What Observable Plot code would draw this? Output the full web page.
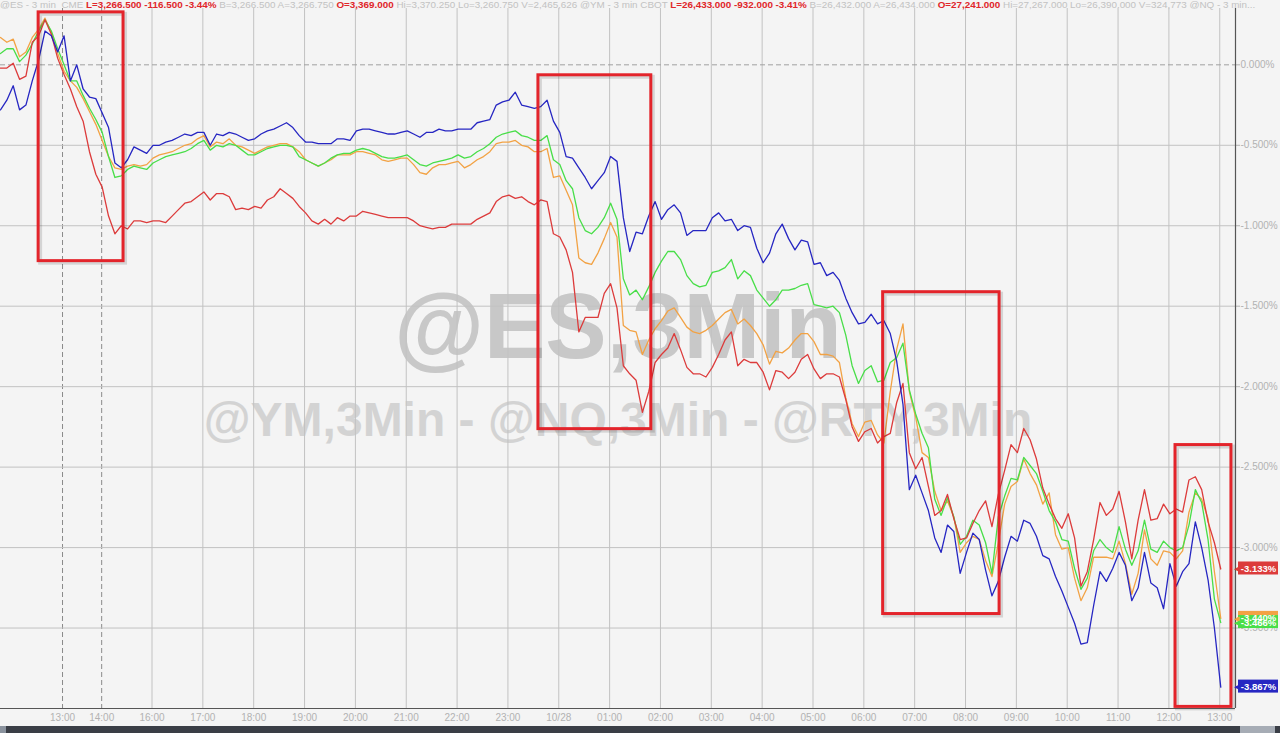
<!DOCTYPE html>
<html><head><meta charset="utf-8">
<script src="https://cdn.jsdelivr.net/npm/d3@7"></script>
<script src="https://cdn.jsdelivr.net/npm/@observablehq/plot@0.6"></script>
<style>
html,body{margin:0;padding:0;background:#f4f4f4;}
#wrap{position:relative;width:1280px;height:733px;overflow:hidden;background:#f4f4f4;font-family:"Liberation Sans",Arial,sans-serif;}
#header{position:absolute;left:0px;top:-1px;width:1262px;overflow:hidden;font-size:9.85px;white-space:nowrap;color:#c2c2c2;line-height:11px;}
#header b{color:#e0262a;}
#scroll{position:absolute;left:0;top:726px;width:1280px;height:7px;background:#3a3e46;}
#scroll .l{position:absolute;left:0;top:0;width:6px;height:7px;background:#8b939e;}
#scroll .r{position:absolute;left:1240px;top:0;width:35px;height:7px;background:#a6acb5;}
</style></head>
<body><div id="wrap"><div id="chart"></div><div id="header"></div><div id="scroll"><div class="l"></div><div class="r"></div></div></div>
<script>
// ---- data: % change, one sample every 0.125 trading hours ----
const step = 0.125;
const nq = [-0.28,-0.22,-0.13,-0.28,-0.25,-0.10,0.03,0.21,0.18,0.08,0.18,-0.10,0.00,-0.15,-0.20,-0.21,-0.30,-0.39,-0.61,-0.64,
-0.59,-0.51,-0.53,-0.55,-0.50,-0.50,-0.48,-0.47,-0.45,-0.43,-0.44,-0.42,-0.42,-0.50,-0.43,-0.44,-0.42,-0.43,-0.45,-0.47,
-0.46,-0.43,-0.41,-0.40,-0.38,-0.36,-0.39,-0.44,-0.48,-0.48,-0.49,-0.49,-0.49,-0.46,-0.46,-0.47,-0.41,-0.40,-0.40,-0.41,
-0.42,-0.43,-0.43,-0.42,-0.41,-0.43,-0.45,-0.42,-0.42,-0.40,-0.41,-0.41,-0.40,-0.40,-0.40,-0.36,-0.35,-0.34,-0.25,-0.23,
-0.22,-0.17,-0.25,-0.26,-0.27,-0.26,-0.22,-0.35,-0.42,-0.57,-0.58,-0.64,-0.70,-0.77,-0.72,-0.67,-0.57,-0.60,-0.95,-1.16,
-1.04,-1.05,-0.94,-0.85,-0.96,-0.90,-0.87,-0.92,-1.06,-1.03,-1.03,-1.03,-0.95,-0.92,-0.97,-0.96,-1.03,-1.00,-1.01,-1.14,
-1.23,-1.17,-1.05,-0.99,-1.08,-1.15,-1.09,-1.10,-1.24,-1.23,-1.31,-1.29,-1.34,-1.45,-1.54,-1.61,-1.60,-1.55,-1.61,-1.59,
-1.67,-1.84,-2.11,-2.64,-2.55,-2.66,-2.77,-2.94,-3.03,-2.86,-2.90,-3.16,-3.03,-2.91,-2.95,-3.14,-3.30,-3.21,-3.06,-2.93,
-2.96,-2.83,-2.85,-2.93,-3.05,-3.07,-3.18,-3.27,-3.37,-3.47,-3.60,-3.59,-3.36,-3.15,-3.21,-3.13,-3.03,-3.11,-3.33,-3.25,
-3.03,-3.22,-3.25,-3.38,-3.10,-3.24,-3.15,-3.10,-2.84,-3.00,-3.20,-3.50,-3.867];
const es = [0.17,0.14,0.16,0.05,0.08,0.17,0.22,0.29,0.20,0.07,-0.04,-0.10,-0.14,-0.21,-0.29,-0.37,-0.47,-0.57,-0.64,-0.65,
-0.63,-0.62,-0.63,-0.62,-0.58,-0.56,-0.55,-0.54,-0.52,-0.50,-0.49,-0.46,-0.44,-0.51,-0.48,-0.49,-0.46,-0.50,-0.51,-0.53,
-0.55,-0.53,-0.51,-0.50,-0.49,-0.49,-0.51,-0.54,-0.59,-0.61,-0.63,-0.61,-0.59,-0.56,-0.56,-0.56,-0.54,-0.54,-0.55,-0.56,
-0.59,-0.60,-0.59,-0.58,-0.58,-0.62,-0.67,-0.68,-0.64,-0.62,-0.62,-0.61,-0.60,-0.64,-0.62,-0.59,-0.57,-0.54,-0.49,-0.48,
-0.48,-0.47,-0.50,-0.51,-0.54,-0.54,-0.52,-0.70,-0.69,-0.78,-0.87,-1.20,-1.23,-1.24,-1.17,-1.08,-0.98,-1.07,-1.62,-1.65,
-1.66,-1.80,-1.71,-1.64,-1.59,-1.53,-1.51,-1.57,-1.63,-1.66,-1.67,-1.65,-1.62,-1.58,-1.54,-1.52,-1.61,-1.58,-1.62,-1.67,
-1.74,-1.86,-1.78,-1.79,-1.76,-1.71,-1.67,-1.67,-1.72,-1.80,-1.80,-1.81,-1.85,-2.07,-2.23,-2.31,-2.22,-2.21,-2.30,-2.35,
-2.03,-1.77,-1.61,-2.03,-2.19,-2.41,-2.44,-2.65,-2.77,-2.71,-2.81,-3.03,-2.97,-2.93,-2.95,-3.08,-3.18,-2.97,-2.73,-2.62,
-2.59,-2.45,-2.54,-2.61,-2.73,-2.66,-2.92,-3.01,-3.00,-3.19,-3.33,-3.25,-3.06,-3.06,-3.06,-3.07,-2.96,-3.10,-3.29,-3.16,
-2.89,-3.07,-3.11,-3.02,-3.03,-3.07,-3.02,-2.78,-2.66,-2.70,-2.82,-3.15,-3.44];
const ym = [0.07,0.10,0.10,0.02,0.06,0.13,0.21,0.28,0.21,0.10,0.00,-0.10,-0.10,-0.19,-0.27,-0.34,-0.42,-0.57,-0.70,-0.69,
-0.65,-0.63,-0.64,-0.65,-0.61,-0.59,-0.57,-0.56,-0.55,-0.54,-0.52,-0.49,-0.47,-0.53,-0.50,-0.51,-0.49,-0.50,-0.53,-0.56,
-0.56,-0.54,-0.52,-0.51,-0.50,-0.50,-0.51,-0.57,-0.59,-0.61,-0.63,-0.61,-0.58,-0.56,-0.55,-0.55,-0.53,-0.52,-0.53,-0.55,
-0.57,-0.58,-0.58,-0.57,-0.56,-0.59,-0.62,-0.63,-0.61,-0.60,-0.59,-0.58,-0.56,-0.58,-0.57,-0.54,-0.52,-0.49,-0.45,-0.43,
-0.42,-0.41,-0.44,-0.45,-0.47,-0.47,-0.44,-0.59,-0.62,-0.72,-0.77,-0.95,-1.03,-1.05,-1.01,-0.95,-0.86,-0.96,-1.33,-1.43,
-1.40,-1.46,-1.38,-1.29,-1.22,-1.16,-1.16,-1.21,-1.31,-1.36,-1.38,-1.37,-1.29,-1.28,-1.26,-1.21,-1.33,-1.28,-1.31,-1.40,
-1.45,-1.50,-1.46,-1.40,-1.40,-1.39,-1.37,-1.36,-1.49,-1.50,-1.51,-1.50,-1.54,-1.68,-1.87,-1.98,-1.90,-1.87,-1.97,-1.96,
-1.85,-1.82,-1.73,-2.02,-2.17,-2.29,-2.38,-2.70,-2.80,-2.69,-2.81,-2.98,-2.93,-2.83,-2.86,-2.97,-3.16,-2.81,-2.68,-2.57,
-2.58,-2.44,-2.49,-2.54,-2.65,-2.77,-2.84,-2.95,-2.96,-3.13,-3.26,-3.19,-3.02,-2.95,-3.00,-3.03,-2.87,-3.01,-3.11,-3.02,
-2.83,-3.01,-3.03,-2.96,-3.00,-3.02,-3.00,-2.86,-2.64,-2.72,-2.95,-3.32,-3.466];
const rty = [-0.02,-0.02,0.01,-0.09,-0.07,0.14,0.18,0.28,0.19,0.04,-0.06,-0.15,-0.26,-0.35,-0.54,-0.68,-0.76,-0.94,-1.05,-1.00,
-1.02,-0.97,-0.97,-0.98,-0.97,-0.97,-0.98,-0.94,-0.90,-0.86,-0.85,-0.82,-0.79,-0.84,-0.80,-0.80,-0.82,-0.90,-0.89,-0.90,
-0.88,-0.89,-0.84,-0.82,-0.77,-0.80,-0.83,-0.88,-0.92,-0.97,-0.99,-0.96,-0.99,-0.95,-0.97,-0.94,-0.94,-0.91,-0.92,-0.93,
-0.94,-0.95,-0.95,-0.95,-0.95,-0.97,-1.00,-1.01,-1.02,-1.01,-1.01,-0.99,-0.99,-0.99,-0.99,-0.96,-0.94,-0.92,-0.85,-0.82,
-0.81,-0.83,-0.82,-0.85,-0.87,-0.84,-0.85,-1.05,-1.07,-1.15,-1.29,-1.66,-1.57,-1.57,-1.57,-1.42,-1.36,-1.51,-1.87,-1.92,
-1.96,-2.16,-2.03,-1.85,-1.80,-1.76,-1.67,-1.77,-1.88,-1.92,-1.92,-1.94,-1.88,-1.80,-1.71,-1.66,-1.87,-1.83,-1.85,-1.85,
-1.91,-2.02,-1.90,-1.91,-1.95,-1.91,-1.83,-1.80,-1.89,-1.95,-1.92,-1.92,-1.94,-2.08,-2.25,-2.34,-2.28,-2.26,-2.35,-2.31,
-2.29,-2.10,-1.98,-2.41,-2.51,-2.44,-2.62,-2.80,-2.77,-2.67,-2.82,-2.95,-2.94,-2.85,-2.77,-2.71,-2.87,-2.67,-2.52,-2.36,
-2.41,-2.26,-2.33,-2.45,-2.63,-2.73,-2.82,-2.88,-2.79,-2.94,-3.24,-3.15,-2.95,-2.72,-2.80,-2.76,-2.65,-2.84,-3.07,-2.83,
-2.64,-2.83,-2.82,-2.73,-2.79,-2.76,-2.78,-2.58,-2.56,-2.64,-2.84,-2.97,-3.133];

// axis ticks (trading-hour positions) and their labels
const tickHours = [1.22,1.99,2.98,3.98,4.98,5.98,6.98,7.98,8.98,9.98,10.98,11.98,12.98,13.98,14.98,15.98,16.98,17.98,18.98,19.98,20.98,21.98,22.98,23.98];
const tickLabels = ["13:00","14:00","16:00","17:00","18:00","19:00","20:00","21:00","22:00","23:00","10/28","01:00","02:00","03:00","04:00","05:00","06:00","07:00","08:00","09:00","10:00","11:00","12:00","13:00"];
const yTicks = [0,-0.5,-1,-1.5,-2,-2.5,-3,-3.5];
const xDomain = [0, 24.29];
const yDomain = [-4.0, 0.35];

// highlighted windows (start hour, end hour, top %, bottom %)
const boxStart = [0.75, 10.58, 17.36, 23.11];
const boxEnd = [2.42, 12.80, 19.65, 24.21];
const boxTop = [0.326, -0.065, -1.413, -2.363];
const boxBottom = [-1.22, -2.264, -3.413, -3.99];

// ---- build ----
const seriesOrder = [
  {name: "ES", values: es, color: "#f2a244"},
  {name: "YM", values: ym, color: "#48de48"},
  {name: "RTY", values: rty, color: "#dc3b3b"},
  {name: "NQ", values: nq, color: "#2626c2"}
];
const colorOf = Object.fromEntries(seriesOrder.map(s => [s.name, s.color]));
const rows = seriesOrder.flatMap(s => s.values.map((v, i) => ({name: s.name, t: i * step, v})));
const boxes = boxStart.map((s, i) => ({x1: s, x2: boxEnd[i], y1: boxTop[i], y2: boxBottom[i]}));
const lastRows = seriesOrder.map(s => ({name: s.name, v: s.values[s.values.length - 1]}));
const xEnd = xDomain[1];

const chart = Plot.plot({
  width: 1280, height: 726,
  marginLeft: 0, marginRight: 45, marginTop: 8, marginBottom: 18,
  style: {background: "#f4f4f4", fontFamily: "Liberation Sans, Arial, sans-serif", fontSize: "10px", color: "#b2b2b2", overflow: "visible"},
  x: {domain: xDomain, ticks: tickHours, tickFormat: d => tickLabels[tickHours.indexOf(d)], tickSize: 0, tickPadding: 5, label: null},
  y: {domain: yDomain, axis: "right", ticks: yTicks, tickFormat: d => d.toFixed(3) + "%", tickSize: 4, tickPadding: 1, label: null},
  marks: [
    Plot.text(["@ES,3Min"], {frameAnchor: "middle", dy: -30, fontSize: 92, fontWeight: "bold", fill: "#c8c8c8"}),
    Plot.text(["@YM,3Min - @NQ,3Min - @RTY,3Min"], {frameAnchor: "middle", dy: 62, fontSize: 48, fontWeight: "bold", fill: "#d3d3d3"}),
    Plot.ruleX(tickHours.filter((d, i) => i >= 2), {stroke: "#c2c2c2", strokeWidth: 1}),
    Plot.ruleX(tickHours.filter((d, i) => i < 2), {stroke: "#8a8a8a", strokeWidth: 1, strokeDasharray: "5,3"}),
    Plot.ruleY(yTicks.filter(d => d !== 0), {stroke: "#c2c2c2", strokeWidth: 1}),
    Plot.ruleY([0], {stroke: "#a0a0a0", strokeWidth: 1, strokeDasharray: "5,3"}),
    Plot.line(rows, {x: "t", y: "v", z: "name", stroke: d => colorOf[d.name], strokeWidth: 1.3, curve: "linear"}),
    Plot.rect(boxes, {x1: "x1", x2: "x2", y1: "y1", y2: "y2", fill: "none", stroke: "#000", strokeOpacity: 0.13, strokeWidth: 4, dx: 2, dy: 2}),
    Plot.rect(boxes, {x1: "x1", x2: "x2", y1: "y1", y2: "y2", fill: "none", stroke: "#e3242b", strokeWidth: 3}),
    Plot.ruleX([xEnd], {stroke: "#555", strokeWidth: 1.2}),
    Plot.ruleY([yDomain[0]], {stroke: "#555", strokeWidth: 1.2}),
    Plot.rect(lastRows, {x1: () => xEnd, x2: () => xEnd, y1: "v", y2: "v", fill: d => colorOf[d.name], insetLeft: 3, insetRight: -43, insetTop: -7, insetBottom: -6}),
    Plot.text(lastRows, {x: () => xEnd, y: "v", text: () => "\u25C0", dx: 1, fill: d => colorOf[d.name], fontSize: 7}),
    Plot.text(lastRows, {x: () => xEnd, y: "v", text: d => d.v.toFixed(3) + "%", dx: 23, fill: "white", fontWeight: "bold", fontSize: 9.5})
  ]
});
document.getElementById("chart").appendChild(chart);

// header quote line
const hdr = [
  ["g", "@ES - 3 min  CME "], ["r", "L=3,266.500 -116.500 -3.44%"], ["g", " B=3,266.500 A=3,266.750 "], ["r", "O=3,369.000"],
  ["g", " Hi=3,370.250 Lo=3,260.750 V=2,465,626 @YM - 3 min CBOT "], ["r", "L=26,433.000 -932.000 -3.41%"],
  ["g", " B=26,432.000 A=26,434.000 "], ["r", "O=27,241.000"], ["g", " Hi=27,267.000 Lo=26,390.000 V=324,773 @NQ - 3 min..."]
];
const h = document.getElementById("header");
hdr.forEach(([k, t]) => {
  const el = document.createElement(k === "r" ? "b" : "span");
  el.textContent = t;
  el.style.whiteSpace = "pre";
  h.appendChild(el);
});
</script></body></html>
